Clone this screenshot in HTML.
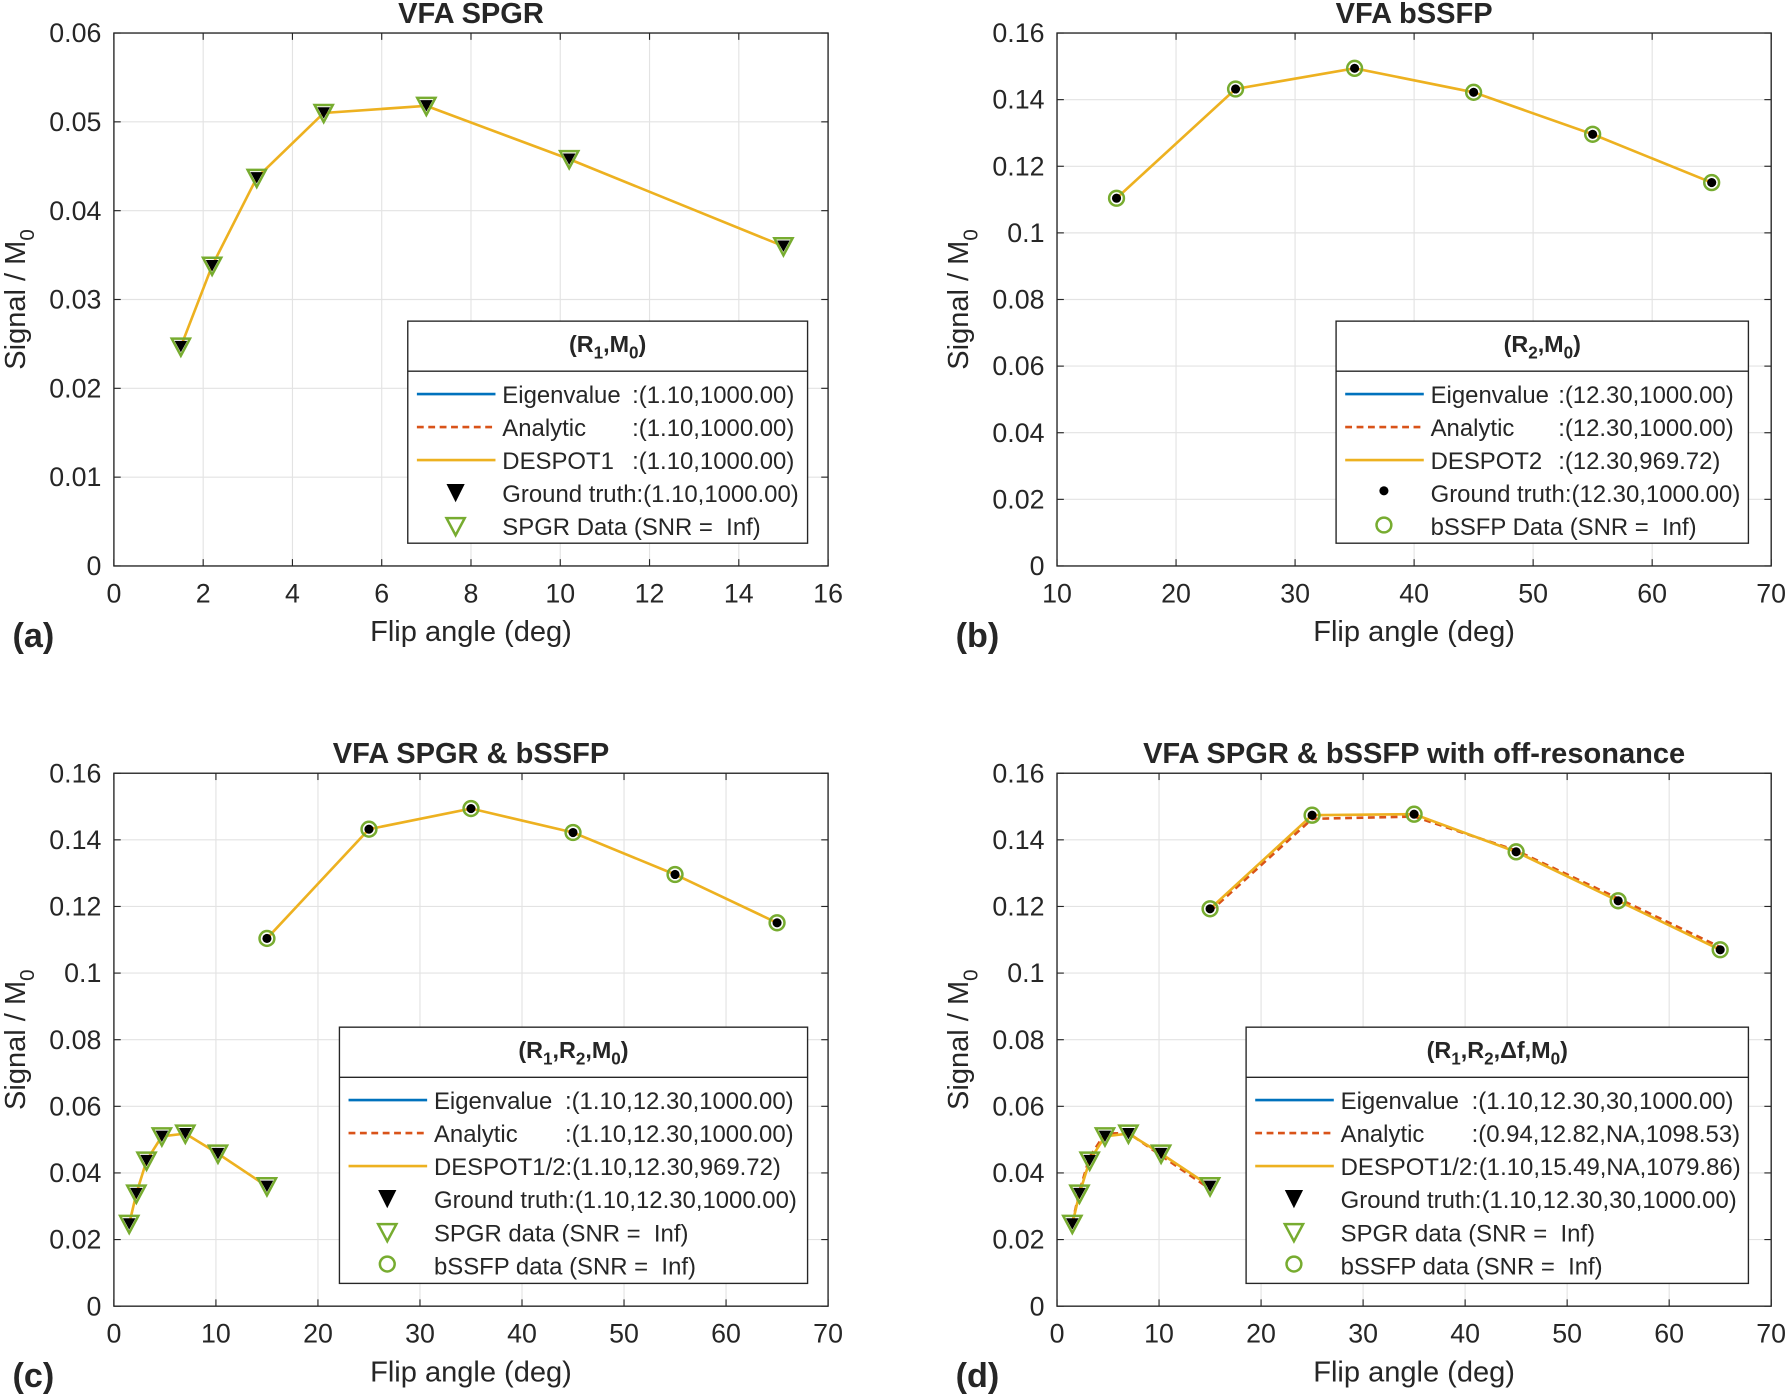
<!DOCTYPE html>
<html><head><meta charset="utf-8"><style>
html,body{margin:0;padding:0;background:#fff;}
svg{display:block;}
text{font-family:"Liberation Sans",Arial,sans-serif;fill:#262626;}
</style></head><body>
<svg id="fig" width="1786" height="1395" viewBox="0 0 1568 1225" preserveAspectRatio="none" xmlns="http://www.w3.org/2000/svg"></svg>
<script>
// ---- data ----
const spgrAngles = [1.5, 2.2, 3.2, 4.7, 7, 10.2, 15];
const spgrSignal = [0.0247, 0.0338, 0.0437, 0.0510, 0.0518, 0.0458, 0.0360];
const bssfpAngles = [15, 25, 35, 45, 55, 65];
const bssfpSignal = [0.1104, 0.1432, 0.1494, 0.1422, 0.1296, 0.1151];
const offresSignal = [0.1193, 0.1474, 0.1477, 0.1364, 0.1217, 0.1070];
const offresAnalytic = [0.1185, 0.1463, 0.1470, 0.1368, 0.1224, 0.1078];
const spgrAnalyticD = [0.0250, 0.0345, 0.0448, 0.0518, 0.0520, 0.0452, 0.0352];
const ticksA_x = [0,2,4,6,8,10,12,14,16];
const ticksA_y = [0,0.01,0.02,0.03,0.04,0.05,0.06];
const ticksY16 = [0,0.02,0.04,0.06,0.08,0.1,0.12,0.14,0.16];
const ticksX1070 = [10,20,30,40,50,60,70];
const ticksX070 = [0,10,20,30,40,50,60,70];

const NS = "http://www.w3.org/2000/svg";
const fig = document.getElementById('fig');
const BLUE="#0072BD", RED="#D95319", YEL="#EDB120", GRN="#77AC30";
const TF=23.5, LF=21;
function mk(tag, attrs, parent){const e=document.createElementNS(NS,tag);for(const k in attrs)e.setAttribute(k,attrs[k]);(parent||fig).appendChild(e);return e;}

function panel(cfg){
  const g=mk('g',{});
  
  
  const {x0,x1,y0,y1,xmin,xmax,ymin,ymax}=cfg;
  const sx=v=>x0+(v-xmin)/(xmax-xmin)*(x1-x0);
  const sy=v=>y1-(v-ymin)/(ymax-ymin)*(y1-y0);
  mk('rect',{x:x0,y:y0,width:x1-x0,height:y1-y0,fill:'#fff'},g);
  cfg.xt.forEach(t=>{const X=sx(t);
    if(t!==xmin&&t!==xmax){const l=mk('line',{x1:X,x2:X,y1:y0,y2:y1,stroke:'#e3e3e3','stroke-width':1},g);
      }
    mk('line',{x1:X,x2:X,y1:y1,y2:y1-6,stroke:'#262626','stroke-width':1},g);
    mk('line',{x1:X,x2:X,y1:y0,y2:y0+6,stroke:'#262626','stroke-width':1},g);
    const tx=mk('text',{x:X,y:y1+32,'font-size':TF,'text-anchor':'middle'},g);tx.textContent=String(t);
    
  });
  cfg.yt.forEach(t=>{const Y=sy(t);
    if(t!==ymin&&t!==ymax){const l=mk('line',{x1:x0,x2:x1,y1:Y,y2:Y,stroke:'#e3e3e3','stroke-width':1},g);
      }
    mk('line',{x1:x0,x2:x0+6,y1:Y,y2:Y,stroke:'#262626','stroke-width':1},g);
    mk('line',{x1:x1,x2:x1-6,y1:Y,y2:Y,stroke:'#262626','stroke-width':1},g);
    const tx=mk('text',{x:x0-11,y:Y+8,'font-size':TF,'text-anchor':'end'},g);tx.textContent=String(t);
    
  });
  const box=mk('rect',{x:x0,y:y0,width:x1-x0,height:y1-y0,fill:'none',stroke:'#262626','stroke-width':1.2},g);
  
  const ti=mk('text',{x:(x0+x1)/2,y:y0-9,'font-size':25.5,'font-weight':'bold','text-anchor':'middle',fill:'#000'},g);
  ti.textContent=cfg.title;
  const xl=mk('text',{x:(x0+x1)/2,y:y1+66,'font-size':25.5,'text-anchor':'middle'},g);
  xl.textContent='Flip angle (deg)';
  const yl=mk('text',{x:0,y:0,'font-size':25.5,'text-anchor':'middle',transform:`translate(${x0-78},${(y0+y1)/2}) rotate(-90)`},g);
  
  yl.innerHTML='Signal / M<tspan dy="8" font-size="18">0</tspan>';
  const pl=mk('text',{x:x0-89,y:y1+71,'font-size':30,'font-weight':'bold',fill:'#000'},g);
  pl.textContent=cfg.letter;
  function line(xs,ys,color,dash,name){
    const p=mk('polyline',{points:xs.map((x,i)=>sx(x)+','+sy(ys[i])).join(' '),fill:'none',stroke:color,'stroke-width':2.3,'stroke-dasharray':dash||'none'},g);
    
  }
  function tri(xs,ys){xs.forEach((x,i)=>{const X=sx(x),Y=sy(ys[i]);
    const a=mk('polygon',{points:`${X-8},${Y-7} ${X+8},${Y-7} ${X},${Y+8}`,fill:'none',stroke:GRN,'stroke-width':2.2},g);
    
    const b=mk('polygon',{points:`${X-5.5},${Y-5} ${X+5.5},${Y-5} ${X},${Y+5}`,fill:'#000'},g);
    });}
  function circ(xs,ys){xs.forEach((x,i)=>{const X=sx(x),Y=sy(ys[i]);
    const a=mk('circle',{cx:X,cy:Y,r:6.5,fill:'none',stroke:GRN,'stroke-width':2.2},g);
    
    const b=mk('circle',{cx:X,cy:Y,r:4,fill:'#000'},g);
    });}
  cfg.draw(line,tri,circ);
  const L=cfg.leg;
  const lg=mk('g',{},g);
  mk('rect',{x:L.x,y:L.y,width:L.w,height:L.h,fill:'#fff',stroke:'#262626','stroke-width':1.2},lg);
  mk('line',{x1:L.x,x2:L.x+L.w,y1:L.y+44,y2:L.y+44,stroke:'#262626','stroke-width':1.2},lg);
  const hd=mk('text',{x:L.x+L.w/2,y:L.y+27,'font-size':20.5,'font-weight':'bold','text-anchor':'middle',fill:'#000'},lg);
  hd.innerHTML=L.head;
  L.items.forEach((it,i)=>{const Y=L.y+64+i*29;const lx=L.x+8;
    const eg=mk('g',{},lg);
    if(it.t==='line')mk('line',{x1:lx,x2:lx+69,y1:Y,y2:Y,stroke:it.c,'stroke-width':2.3,'stroke-dasharray':it.d||'none'},eg);
    const cx=lx+34;
    if(it.t==='gt')mk('polygon',{points:`${cx-8},${Y-8} ${cx+8},${Y-8} ${cx},${Y+8}`,fill:'#000'},eg);
    if(it.t==='dot')mk('circle',{cx:cx,cy:Y-2,r:4,fill:'#000'},eg);
    if(it.t==='tri')mk('polygon',{points:`${cx-8},${Y-7} ${cx+8},${Y-7} ${cx},${Y+8}`,fill:'none',stroke:GRN,'stroke-width':2.2},eg);
    if(it.t==='circ')mk('circle',{cx:cx,cy:Y-1,r:6.5,fill:'none',stroke:GRN,'stroke-width':2.2},eg);
    const t1=mk('text',{x:lx+75,y:Y+8,'font-size':LF,fill:'#000'},eg);t1.textContent=it.a;
    if(it.b){const t2=mk('text',{x:L.cx,y:Y+8,'font-size':LF,fill:'#000'},eg);t2.textContent=it.b;}
  });
}
const SNR='(SNR =\u00a0\u00a0Inf)';
panel({name:'panel-a-vfa-spgr',title:'VFA SPGR',letter:'(a)',x0:100,x1:727,y0:29,y1:497,xmin:0,xmax:16,ymin:0,ymax:0.06,xt:ticksA_x,yt:ticksA_y,
  draw:(line,tri,circ)=>{line(spgrAngles,spgrSignal,YEL,null,'despot1-line');tri(spgrAngles,spgrSignal);},
  leg:{x:358,y:282,w:351,h:195,cx:555,head:'(R<tspan dy="6" font-size="15">1</tspan><tspan dy="-6">,M</tspan><tspan dy="6" font-size="15">0</tspan><tspan dy="-6">)</tspan>',
    items:[{t:'line',c:BLUE,a:'Eigenvalue',b:':(1.10,1000.00)'},{t:'line',c:RED,d:'6,4',a:'Analytic',b:':(1.10,1000.00)'},{t:'line',c:YEL,a:'DESPOT1',b:':(1.10,1000.00)'},{t:'gt',a:'Ground truth:(1.10,1000.00)'},{t:'tri',a:'SPGR Data '+SNR}]}});

panel({name:'panel-b-vfa-bssfp',title:'VFA bSSFP',letter:'(b)',x0:928,x1:1555,y0:29,y1:497,xmin:10,xmax:70,ymin:0,ymax:0.16,xt:ticksX1070,yt:ticksY16,
  draw:(line,tri,circ)=>{line(bssfpAngles,bssfpSignal,YEL,null,'despot2-line');circ(bssfpAngles,bssfpSignal);},
  leg:{x:1173,y:282,w:362,h:195,cx:1368,head:'(R<tspan dy="6" font-size="15">2</tspan><tspan dy="-6">,M</tspan><tspan dy="6" font-size="15">0</tspan><tspan dy="-6">)</tspan>',
    items:[{t:'line',c:BLUE,a:'Eigenvalue',b:':(12.30,1000.00)'},{t:'line',c:RED,d:'6,4',a:'Analytic',b:':(12.30,1000.00)'},{t:'line',c:YEL,a:'DESPOT2',b:':(12.30,969.72)'},{t:'dot',a:'Ground truth:(12.30,1000.00)'},{t:'circ',a:'bSSFP Data '+SNR}]}});

panel({name:'panel-c-vfa-spgr-bssfp',title:'VFA SPGR & bSSFP',letter:'(c)',x0:100,x1:727,y0:679,y1:1147,xmin:0,xmax:70,ymin:0,ymax:0.16,xt:ticksX070,yt:ticksY16,
  draw:(line,tri,circ)=>{line(spgrAngles,spgrSignal,YEL,null,'despot1-line');line(bssfpAngles,bssfpSignal,YEL,null,'despot2-line');tri(spgrAngles,spgrSignal);circ(bssfpAngles,bssfpSignal);},
  leg:{x:298,y:902,w:411,h:225,cx:496,head:'(R<tspan dy="6" font-size="15">1</tspan><tspan dy="-6">,R</tspan><tspan dy="6" font-size="15">2</tspan><tspan dy="-6">,M</tspan><tspan dy="6" font-size="15">0</tspan><tspan dy="-6">)</tspan>',
    items:[{t:'line',c:BLUE,a:'Eigenvalue',b:':(1.10,12.30,1000.00)'},{t:'line',c:RED,d:'6,4',a:'Analytic',b:':(1.10,12.30,1000.00)'},{t:'line',c:YEL,a:'DESPOT1/2:(1.10,12.30,969.72)'},{t:'gt',a:'Ground truth:(1.10,12.30,1000.00)'},{t:'tri',a:'SPGR data '+SNR},{t:'circ',a:'bSSFP data '+SNR}]}});

panel({name:'panel-d-off-resonance',title:'VFA SPGR & bSSFP with off-resonance',letter:'(d)',x0:928,x1:1555,y0:679,y1:1147,xmin:0,xmax:70,ymin:0,ymax:0.16,xt:ticksX070,yt:ticksY16,
  draw:(line,tri,circ)=>{line(spgrAngles,spgrAnalyticD,RED,'6,4','analytic-spgr-line');line(bssfpAngles,offresAnalytic,RED,'6,4','analytic-bssfp-line');
    line(spgrAngles,spgrSignal,YEL,null,'despot1-line');line(bssfpAngles,offresSignal,YEL,null,'despot2-line');tri(spgrAngles,spgrSignal);circ(bssfpAngles,offresSignal);},
  leg:{x:1094,y:902,w:441,h:225,cx:1292,head:'(R<tspan dy="6" font-size="15">1</tspan><tspan dy="-6">,R</tspan><tspan dy="6" font-size="15">2</tspan><tspan dy="-6">,Δf,M</tspan><tspan dy="6" font-size="15">0</tspan><tspan dy="-6">)</tspan>',
    items:[{t:'line',c:BLUE,a:'Eigenvalue',b:':(1.10,12.30,30,1000.00)'},{t:'line',c:RED,d:'6,4',a:'Analytic',b:':(0.94,12.82,NA,1098.53)'},{t:'line',c:YEL,a:'DESPOT1/2:(1.10,15.49,NA,1079.86)'},{t:'gt',a:'Ground truth:(1.10,12.30,30,1000.00)'},{t:'tri',a:'SPGR data '+SNR},{t:'circ',a:'bSSFP data '+SNR}]}});
</script>
</body></html>
